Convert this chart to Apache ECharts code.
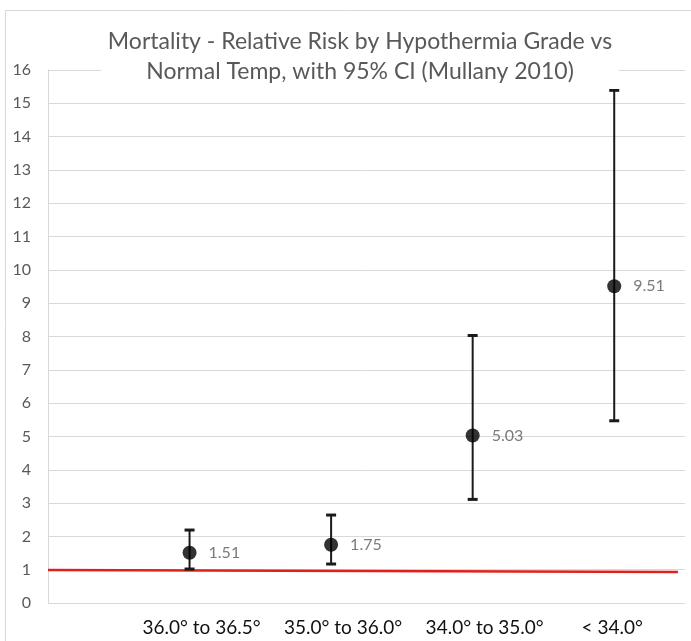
<!DOCTYPE html>
<html>
<head>
<meta charset="utf-8">
<script src="https://cdn.jsdelivr.net/npm/echarts@6/dist/echarts.min.js"></script>
<style>
html,body{margin:0;padding:0;background:#fff;}
#chart{width:691px;height:641px;}
</style>
</head>
<body>
<div id="chart"></div>
<script>
const categories = ['36.0° to 36.5°', '35.0° to 36.0°', '34.0° to 35.0°', '< 34.0°'];
const xPositions = [1, 2, 3, 4];
const relativeRisk = [1.51, 1.75, 5.03, 9.51];
const ciLower = [1.02, 1.17, 3.11, 5.47];
const ciUpper = [2.19, 2.64, 8.03, 15.39];
const refLineX = [0, 4.45];
const refLineY = [0.99, 0.93];
const yMin = 0, yMax = 16, yStep = 1;
const xMin = 0, xMax = 4.5;

const FONT = 'Lato, "Open Sans", sans-serif';
const chart = echarts.init(document.getElementById('chart'), null, {renderer: 'canvas'});

const pointData = xPositions.map((x, i) => [x, relativeRisk[i]]);
const errData = xPositions.map((x, i) => [x, ciLower[i], ciUpper[i]]);
const refData = refLineX.map((x, i) => [x, refLineY[i]]);

chart.setOption({
  animation: false,
  backgroundColor: '#ffffff',
  title: {
    text: 'Mortality - Relative Risk by Hypothermia Grade vs\nNormal Temp, with 95% CI (Mullany 2010)',
    left: 353,
    textAlign: 'center',
    top: 25,
    padding: [2, 7, 2, 7],
    backgroundColor: '#ffffff',
    textStyle: {
      fontFamily: FONT,
      fontSize: 23,
      fontWeight: 'normal',
      color: '#595959',
      lineHeight: 30
    }
  },
  graphic: [
    {type: 'line', shape: {x1: 6, y1: 10.5, x2: 691, y2: 10.5}, style: {stroke: '#d9d9d9', lineWidth: 1}, silent: true},
    {type: 'line', shape: {x1: 5.5, y1: 10, x2: 5.5, y2: 641}, style: {stroke: '#d9d9d9', lineWidth: 1}, silent: true}
  ],
  grid: {left: 48, right: 6, top: 70, bottom: 38, containLabel: false},
  xAxis: {
    type: 'value',
    min: xMin,
    max: xMax,
    interval: 1,
    axisLine: {show: false},
    axisTick: {show: false},
    splitLine: {show: false},
    axisLabel: {
      showMaxLabel: false,
      showMinLabel: false,
      margin: 15,
      fontFamily: FONT,
      fontSize: 19,
      color: '#111111',
      formatter: function (v) {
        const idx = xPositions.indexOf(v);
        if (idx < 0) return '';
        return idx < 3 ? '{a|' + categories[idx] + '}' : '{b|' + categories[idx] + '}';
      },
      rich: {
        a: {fontFamily: FONT, fontSize: 19, color: '#111111', padding: [0, 0, 0, 24]},
        b: {fontFamily: FONT, fontSize: 19, color: '#111111', padding: [0, 4, 0, 0]}
      }
    }
  },
  yAxis: {
    type: 'value',
    min: yMin,
    max: yMax,
    interval: yStep,
    axisLine: {show: true, lineStyle: {color: '#d9d9d9', width: 1}},
    axisTick: {show: false},
    splitLine: {show: true, lineStyle: {color: '#d9d9d9', width: 1}},
    axisLabel: {
      margin: 17,
      fontFamily: FONT,
      fontSize: 16,
      color: '#595959'
    }
  },
  series: [
    {
      type: 'line',
      data: refData,
      symbol: 'none',
      lineStyle: {color: '#e0201b', width: 2.5},
      z: 3,
      silent: true
    },
    {
      type: 'custom',
      data: errData,
      z: 4,
      renderItem: function (params, api) {
        const x = api.value(0);
        const lo = api.coord([x, api.value(1)]);
        const hi = api.coord([x, api.value(2)]);
        const half = 5;
        return {
          type: 'group',
          children: [
            {type: 'line', shape: {x1: lo[0], y1: lo[1], x2: hi[0], y2: hi[1]}, style: {stroke: '#1a1a1a', lineWidth: 2}},
            {type: 'line', shape: {x1: hi[0] - half, y1: hi[1], x2: hi[0] + half, y2: hi[1]}, style: {stroke: '#1a1a1a', lineWidth: 3}},
            {type: 'line', shape: {x1: lo[0] - half, y1: lo[1], x2: lo[0] + half, y2: lo[1]}, style: {stroke: '#1a1a1a', lineWidth: 3}}
          ]
        };
      }
    },
    {
      type: 'scatter',
      data: pointData,
      symbol: 'circle',
      symbolSize: 14,
      itemStyle: {color: '#000000'},
      z: 5,
      label: {
        show: true,
        position: 'right',
        distance: 12,
        fontFamily: FONT,
        fontSize: 16,
        color: '#595959',
        formatter: function (p) { return p.value[1].toFixed(2); }
      }
    }
  ]
});
</script>
</body>
</html>
